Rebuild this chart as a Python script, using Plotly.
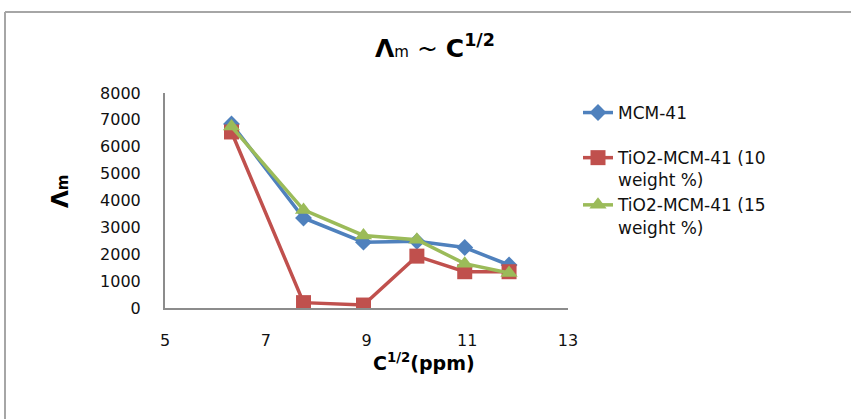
import plotly.graph_objects as go

# ---- data ----
x_vals = [6.32, 7.75, 8.94, 10.0, 10.95, 11.83]
mcm41 = [6850, 3350, 2450, 2480, 2250, 1600]
tio2_10 = [6550, 200, 110, 1930, 1350, 1350]
tio2_15 = [6750, 3650, 2700, 2540, 1650, 1300]

series_names = ["MCM-41", "TiO2-MCM-41 (10<br>weight %)", "TiO2-MCM-41 (15<br>weight %)"]
x_ticks = [5, 7, 9, 11, 13]
y_ticks = [0, 1000, 2000, 3000, 4000, 5000, 6000, 7000, 8000]

FONT = "DejaVu Sans"
W, H = 851, 419
L, R, T, B = 165, 283, 93, 111
pw, ph = W - L - R, H - T - B


def px_x(p):
    return (p - L) / pw


def px_y(p):
    return (H - B - p) / ph


fig = go.Figure()
fig.add_trace(go.Scatter(
    x=x_vals, y=mcm41, name=series_names[0], mode="lines+markers", legendgroup="g1",
    line=dict(color="#4F81BD", width=3.5),
    marker=dict(symbol="diamond", size=13, color="#4F81BD"),
))
fig.add_trace(go.Scatter(
    x=x_vals, y=tio2_10, name=series_names[1], mode="lines+markers", legendgroup="g2",
    line=dict(color="#C0504D", width=3.5),
    marker=dict(symbol="square", size=15, color="#C0504D"),
))
fig.add_trace(go.Scatter(
    x=x_vals, y=tio2_15, name=series_names[2], mode="lines+markers", legendgroup="g2",
    line=dict(color="#9BBB59", width=3.5),
    marker=dict(symbol="triangle-up", size=15, color="#9BBB59"),
))

axis_common = dict(
    showline=True, linecolor="#8c8c8c", linewidth=2, showgrid=False,
    zeroline=False, ticks="", tickfont=dict(family=FONT, size=16, color="#111"),
)

fig.update_layout(
    width=W, height=H,
    margin=dict(l=L, r=R, t=T, b=B),
    paper_bgcolor="white", plot_bgcolor="white",
    showlegend=True,
    legend=dict(
        x=px_x(578), y=px_y(95), xanchor="left", yanchor="top",
        font=dict(family=FONT, size=17, color="#111"),
        valign="top", tracegroupgap=20, bgcolor="rgba(0,0,0,0)",
        itemclick=False,
    ),
    xaxis=dict(range=[5, 13], tickvals=x_ticks, ticklabelstandoff=17, **axis_common),
    yaxis=dict(range=[0, 8000], tickvals=y_ticks, ticklabelstandoff=19, **axis_common),
    shapes=[
        dict(type="line", xref="paper", yref="paper", x0=px_x(5), x1=px_x(851),
             y0=px_y(12), y1=px_y(12), line=dict(color="#a6a6a6", width=2)),
        dict(type="line", xref="paper", yref="paper", x0=px_x(5), x1=px_x(5),
             y0=px_y(12), y1=px_y(419), line=dict(color="#a6a6a6", width=2)),
    ],
    annotations=[
        dict(text="<b>Λ</b><span style='font-size:15px'>m</span> ~ <b>C<sup>1/2</sup></b>",
             xref="paper", yref="paper", x=px_x(435), y=px_y(47),
             xanchor="center", yanchor="middle", showarrow=False,
             font=dict(family=FONT, size=25, color="#000")),
        dict(text="<b>C<sup>1/2</sup>(ppm)</b>",
             xref="paper", yref="paper", x=px_x(424), y=px_y(362),
             xanchor="center", yanchor="middle", showarrow=False,
             font=dict(family=FONT, size=19, color="#000")),
        dict(text="<b>Λ</b><span style='font-size:15px'><b>m</b></span>",
             xref="paper", yref="paper", x=px_x(60), y=px_y(192),
             xanchor="center", yanchor="middle", showarrow=False, textangle=-90,
             font=dict(family=FONT, size=23, color="#000")),
    ],
)

fig.write_html("out.html")
